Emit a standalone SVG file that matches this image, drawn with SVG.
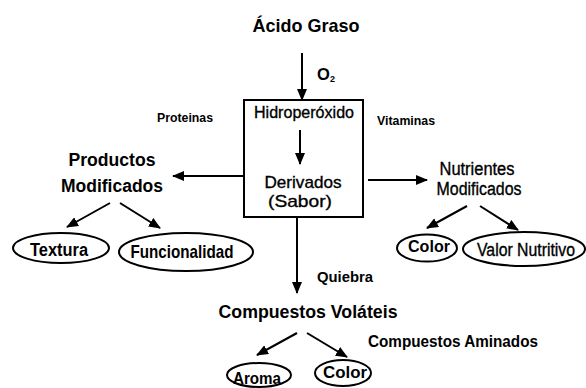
<svg xmlns="http://www.w3.org/2000/svg" width="586" height="388" viewBox="0 0 586 388">
<style>
text{font-family:"Liberation Sans",Arial,sans-serif;fill:#000;text-anchor:middle}
.b{font-weight:bold}
.m{stroke:#000;stroke-width:0.35}
.ln{stroke:#000;stroke-width:2;fill:none}
.sh{fill:none;stroke:#000;stroke-width:2}
</style>
<defs>
<marker id="ah" markerUnits="userSpaceOnUse" markerWidth="12" markerHeight="10" refX="11" refY="5" orient="auto">
<path d="M0,0 L12,5 L0,10 Z" fill="#000"/>
</marker>
</defs>
<rect width="586" height="388" fill="#fff"/>
<g id="connectors">
<line class="ln" x1="302" y1="53" x2="302" y2="100" marker-end="url(#ah)"/>
<line class="ln" x1="300" y1="130" x2="300" y2="164" marker-end="url(#ah)"/>
<line class="ln" x1="243" y1="176" x2="173" y2="176" marker-end="url(#ah)"/>
<line class="ln" x1="368" y1="180" x2="427" y2="180" marker-end="url(#ah)"/>
<line class="ln" x1="110" y1="203" x2="67" y2="227" marker-end="url(#ah)"/>
<line class="ln" x1="120" y1="203" x2="160" y2="228" marker-end="url(#ah)"/>
<line class="ln" x1="467" y1="206" x2="427" y2="228" marker-end="url(#ah)"/>
<line class="ln" x1="480" y1="206" x2="518" y2="230" marker-end="url(#ah)"/>
<line class="ln" x1="297" y1="217" x2="297" y2="293" marker-end="url(#ah)"/>
<line class="ln" x1="297" y1="333" x2="257" y2="355" marker-end="url(#ah)"/>
<line class="ln" x1="307" y1="333" x2="347" y2="357" marker-end="url(#ah)"/>
</g>
<g id="acido"><text class="b" x="306" y="32" font-size="19" textLength="107" lengthAdjust="spacingAndGlyphs">Ácido Graso</text></g>
<g id="o2"><text class="b" x="326" y="80" font-size="16.5">O<tspan font-size="9" dy="2">2</tspan></text></g>
<g id="box">
<rect class="sh" x="244" y="100" width="119" height="117"/>
<text class="m" x="304" y="118" font-size="17" textLength="100" lengthAdjust="spacingAndGlyphs">Hidroperóxido</text>
<text class="m" x="303" y="188" font-size="17" textLength="77" lengthAdjust="spacingAndGlyphs">Derivados</text>
<text class="m" x="300" y="207" font-size="17" textLength="64" lengthAdjust="spacingAndGlyphs">(Sabor)</text>
</g>
<g id="proteinas"><text class="b" x="185" y="122" font-size="12.5" textLength="56" lengthAdjust="spacingAndGlyphs">Proteinas</text></g>
<g id="vitaminas"><text class="b" x="406" y="125" font-size="12.5" textLength="58" lengthAdjust="spacingAndGlyphs">Vitaminas</text></g>
<g id="productos">
<text class="b" x="112" y="166" font-size="18" textLength="87" lengthAdjust="spacingAndGlyphs">Productos</text>
<text class="b" x="112" y="192" font-size="18" textLength="102" lengthAdjust="spacingAndGlyphs">Modificados</text>
</g>
<g id="nutrientes">
<text class="m" x="477" y="175" font-size="18" textLength="75" lengthAdjust="spacingAndGlyphs">Nutrientes</text>
<text class="m" x="479" y="195" font-size="18" textLength="85" lengthAdjust="spacingAndGlyphs">Modificados</text>
</g>
<g id="textura">
<ellipse class="sh" cx="61" cy="248" rx="48" ry="15"/>
<text class="b" x="59" y="256" font-size="18" textLength="58" lengthAdjust="spacingAndGlyphs">Textura</text>
</g>
<g id="funcionalidad">
<ellipse class="sh" cx="186" cy="252" rx="67" ry="19"/>
<text class="b" x="182" y="258" font-size="19" textLength="103" lengthAdjust="spacingAndGlyphs">Funcionalidad</text>
</g>
<g id="color1">
<ellipse class="sh" cx="427" cy="248" rx="30" ry="13.5"/>
<text class="b" x="429" y="252" font-size="17" textLength="42" lengthAdjust="spacingAndGlyphs">Color</text>
</g>
<g id="valor">
<ellipse class="sh" cx="524" cy="249" rx="61" ry="17"/>
<text class="m" x="526" y="256" font-size="17.5" textLength="98" lengthAdjust="spacingAndGlyphs">Valor Nutritivo</text>
</g>
<g id="quiebra"><text class="b" x="345" y="282" font-size="15" textLength="56" lengthAdjust="spacingAndGlyphs">Quiebra</text></g>
<g id="volateis"><text class="b" x="308" y="318" font-size="18" textLength="179" lengthAdjust="spacingAndGlyphs">Compuestos Voláteis</text></g>
<g id="aminados"><text class="b" x="453" y="347" font-size="16.5" textLength="170" lengthAdjust="spacingAndGlyphs">Compuestos Aminados</text></g>
<g id="aroma">
<ellipse class="sh" cx="259" cy="375" rx="32" ry="12"/>
<text class="b" x="257" y="384" font-size="17" textLength="48" lengthAdjust="spacingAndGlyphs">Aroma</text>
</g>
<g id="color2">
<ellipse class="sh" cx="343" cy="373" rx="28" ry="13"/>
<text class="b" x="345" y="378" font-size="17" textLength="44" lengthAdjust="spacingAndGlyphs">Color</text>
</g>
</svg>
